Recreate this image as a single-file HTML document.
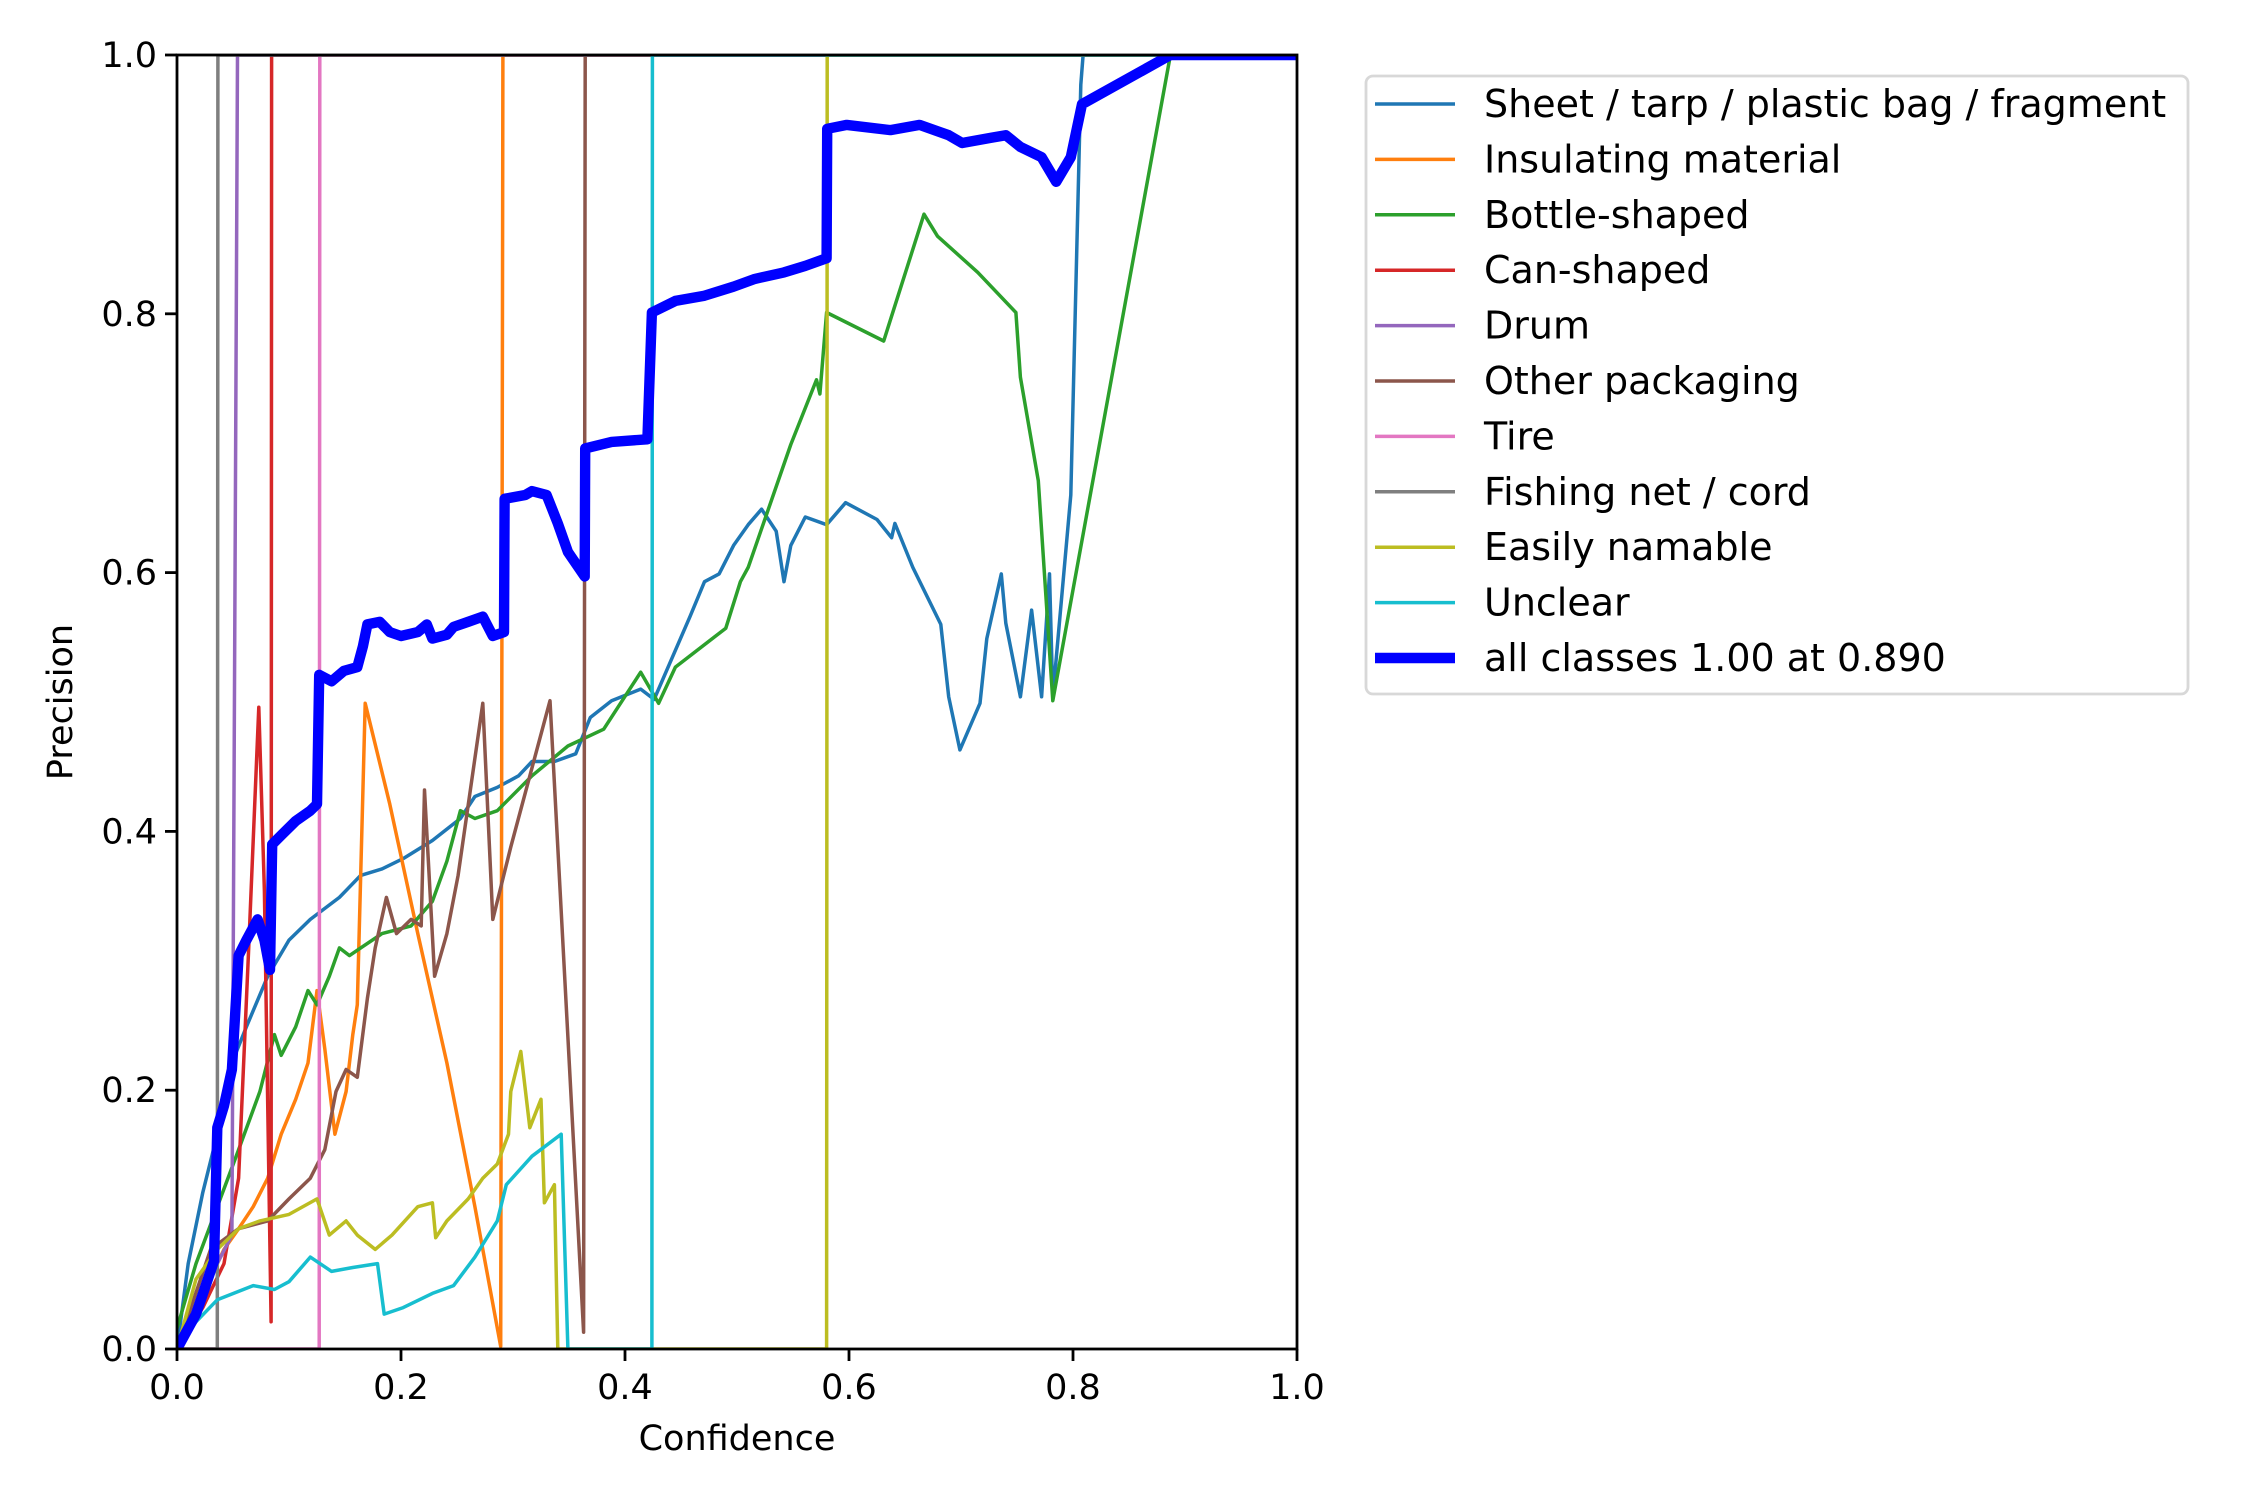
<!DOCTYPE html>
<html><head><meta charset="utf-8"><style>
body{margin:0;background:#fff}
svg{display:block}
text{font-family:"DejaVu Sans","Liberation Sans",sans-serif;fill:#000}
</style></head><body>
<svg id="chart" width="2250" height="1500" viewBox="0 0 2250 1500" xmlns="http://www.w3.org/2000/svg">
<rect x="0" y="0" width="2250" height="1500" fill="#fff"/>
<defs><clipPath id="plotclip"><rect x="177" y="55" width="1120" height="1294"/></clipPath></defs>
<g id="series" clip-path="url(#plotclip)"></g>
<rect x="177" y="55" width="1120" height="1294" fill="none" stroke="#000" stroke-width="2.8"/>
<g id="ticks"></g>
<text x="737" y="1450" font-size="35" text-anchor="middle">Confidence</text>
<text x="0" y="0" font-size="35" text-anchor="middle" transform="translate(72,702) rotate(-90)">Precision</text>
<g>
<rect x="1366" y="76" width="822" height="618" rx="7" fill="#fff" stroke="#d8d8d8" stroke-width="2.8"/>
<g id="legend"></g>
</g>
</svg>
<script>
const xTicks=[0,0.2,0.4,0.6,0.8,1.0];
const yTicks=[0,0.2,0.4,0.6,0.8,1.0];
const tickLabels=["0.0","0.2","0.4","0.6","0.8","1.0"];
const seriesNames=["Sheet / tarp / plastic bag / fragment","Insulating material","Bottle-shaped","Can-shaped","Drum","Other packaging","Tire","Fishing net / cord","Easily namable","Unclear","all classes 1.00 at 0.890"];
const seriesColors=["#1f77b4","#ff7f0e","#2ca02c","#d62728","#9467bd","#8c564b","#e377c2","#7f7f7f","#bcbd22","#17becf","#0000ff"];
const sheetC=[0,.01,.023,.036,.049,.062,.081,.1,.119,.145,.164,.183,.202,.228,.253,.266,.286,.305,.317,.337,.356,.369,.388,.414,.426,.458,.471,.484,.497,.51,.522,.535,.542,.548,.561,.58,.597,.625,.638,.641,.657,.682,.689,.699,.717,.723,.736,.74,.753,.763,.772,.779,.782,.798,.807,.809,1];
const sheetP=[0,.066,.121,.166,.221,.249,.288,.316,.332,.349,.366,.371,.379,.393,.41,.427,.434,.443,.454,.454,.46,.488,.501,.51,.502,.566,.593,.599,.621,.637,.649,.632,.593,.621,.643,.637,.654,.641,.627,.638,.604,.56,.504,.463,.499,.549,.599,.561,.504,.571,.504,.599,.504,.66,.977,1,1];
const insulC=[0,.023,.042,.055,.068,.081,.093,.106,.117,.125,.132,.141,.151,.157,.161,.168,.19,.215,.241,.266,.289,.291,1];
const insulP=[0,.043,.077,.093,.11,.132,.166,.193,.221,.277,.232,.166,.199,.243,.266,.499,.421,.321,.221,.11,.002,1,1];
const bottleC=[0,.017,.036,.055,.074,.087,.093,.106,.117,.125,.136,.145,.154,.164,.183,.209,.228,.241,.253,.266,.286,.317,.349,.381,.414,.43,.445,.49,.503,.51,.548,.571,.574,.58,.631,.667,.679,.715,.749,.753,.769,.782,.887,1];
const bottleP=[.016,.066,.11,.154,.199,.243,.227,.249,.277,.266,.288,.31,.304,.31,.321,.327,.346,.377,.416,.41,.416,.443,.466,.479,.523,.499,.527,.557,.593,.604,.699,.749,.738,.801,.779,.877,.86,.832,.801,.751,.671,.501,1,1];
const canC=[0,.023,.042,.055,.064,.073,.078,.084,.0845,1];
const canP=[0,.032,.066,.132,.31,.496,.354,.021,1,1];
const drumC=[0,.036,.049,.054,1];
const drumP=[0,.066,.088,1,1];
const otherC=[0,.03,.055,.081,.1,.119,.132,.142,.151,.161,.17,.177,.187,.196,.209,.218,.221,.23,.241,.251,.273,.282,.298,.333,.363,.3645,1];
const otherP=[0,.077,.093,.099,.116,.132,.154,.199,.216,.21,.271,.31,.349,.321,.332,.327,.432,.288,.321,.366,.499,.332,.388,.501,.013,1,1];
const tireC=[0,.127,.1275,1];
const tireP=[0,0,1,1];
const netC=[0,.036,.0365,1];
const netP=[0,0,1,1];
const easyC=[0,.017,.036,.055,.074,.1,.125,.136,.151,.161,.177,.192,.215,.228,.231,.241,.26,.273,.286,.296,.298,.307,.315,.325,.328,.337,.34,.58,.5805,1];
const easyP=[0,.054,.077,.093,.099,.104,.116,.088,.099,.088,.077,.088,.11,.113,.086,.099,.116,.132,.143,.166,.199,.23,.171,.193,.113,.127,0,0,1,1];
const unclC=[0,.017,.036,.068,.087,.1,.119,.138,.157,.179,.185,.202,.228,.247,.266,.286,.294,.317,.343,.349,.424,.4245,1];
const unclP=[0,.021,.038,.049,.046,.052,.071,.06,.063,.066,.027,.032,.043,.049,.071,.099,.127,.149,.166,0,0,1,1];
const allC=[0,.017,.033,.036,.042,.049,.055,.062,.072,.078,.083,.085,.093,.106,.119,.125,.127,.138,.149,.161,.166,.17,.181,.19,.2,.215,.223,.228,.241,.247,.26,.273,.282,.292,.2925,.311,.317,.33,.34,.349,.364,.3645,.388,.42,.424,.445,.471,.497,.516,.542,.561,.58,.5805,.598,.637,.663,.689,.701,.727,.74,.753,.772,.785,.798,.808,.887,1];
const allP=[0,.027,.068,.171,.188,.216,.304,.316,.332,.316,.293,.39,.397,.408,.416,.421,.521,.516,.524,.527,.543,.56,.562,.554,.551,.554,.56,.549,.552,.558,.562,.566,.551,.554,.657,.66,.663,.66,.638,.616,.597,.696,.701,.703,.801,.81,.814,.821,.827,.832,.837,.843,.943,.946,.942,.946,.938,.932,.936,.938,.929,.921,.902,.921,.962,1,1];

const X0=177,X1=1297,Y0=1349,Y1=55;
function xs(v){return X0+v*(X1-X0);}
function ys(v){return Y0-v*(Y0-Y1);}
const NS="http://www.w3.org/2000/svg";
const allSeries=[[sheetC,sheetP],[insulC,insulP],[bottleC,bottleP],[canC,canP],[drumC,drumP],[otherC,otherP],[tireC,tireP],[netC,netP],[easyC,easyP],[unclC,unclP],[allC,allP]];
const slugs=["sheet-tarp","insulating-material","bottle-shaped","can-shaped","drum","other-packaging","tire","fishing-net-cord","easily-namable","unclear","all-classes"];
const g=document.getElementById('series');
allSeries.forEach((s,i)=>{
  const pl=document.createElementNS(NS,'polyline');
  pl.setAttribute('points',s[0].map((c,j)=>xs(c).toFixed(1)+','+ys(s[1][j]).toFixed(1)).join(' '));
  pl.setAttribute('fill','none');
  pl.setAttribute('stroke',seriesColors[i]);
  pl.setAttribute('stroke-width',i===10?10.4:3.5);
  pl.setAttribute('stroke-linejoin','round');
  
  
  g.appendChild(pl);
});
const t=document.getElementById('ticks');
xTicks.forEach((v,i)=>{
  const l=document.createElementNS(NS,'line');
  l.setAttribute('x1',xs(v));l.setAttribute('x2',xs(v));l.setAttribute('y1',Y0);l.setAttribute('y2',Y0+12);
  l.setAttribute('stroke','#000');l.setAttribute('stroke-width',2.8);
  
  
  t.appendChild(l);
  const tx=document.createElementNS(NS,'text');
  tx.setAttribute('x',xs(v));tx.setAttribute('y',Y0+50);tx.setAttribute('font-size',35);tx.setAttribute('text-anchor','middle');
  tx.textContent=tickLabels[i];
  
  
  t.appendChild(tx);
});
yTicks.forEach((v,i)=>{
  const l=document.createElementNS(NS,'line');
  l.setAttribute('x1',X0-12);l.setAttribute('x2',X0);l.setAttribute('y1',ys(v));l.setAttribute('y2',ys(v));
  l.setAttribute('stroke','#000');l.setAttribute('stroke-width',2.8);
  
  
  t.appendChild(l);
  const tx=document.createElementNS(NS,'text');
  tx.setAttribute('x',X0-20);tx.setAttribute('y',ys(v)+12);tx.setAttribute('font-size',35);tx.setAttribute('text-anchor','end');
  tx.textContent=tickLabels[i];
  
  
  t.appendChild(tx);
});
const lg=document.getElementById('legend');
seriesNames.forEach((n,i)=>{
  const y=104+i*55.4;
  const gg=document.createElementNS(NS,'g');
  
  
  const l=document.createElementNS(NS,'line');
  l.setAttribute('x1',1375);l.setAttribute('x2',1455);l.setAttribute('y1',y);l.setAttribute('y2',y);
  l.setAttribute('stroke',seriesColors[i]);l.setAttribute('stroke-width',i===10?10.4:3.5);
  gg.appendChild(l);
  const tx=document.createElementNS(NS,'text');
  tx.setAttribute('x',1484);tx.setAttribute('y',y+13);tx.setAttribute('font-size',38);
  tx.textContent=n;
  gg.appendChild(tx);
  lg.appendChild(gg);
});
</script>
</body></html>
